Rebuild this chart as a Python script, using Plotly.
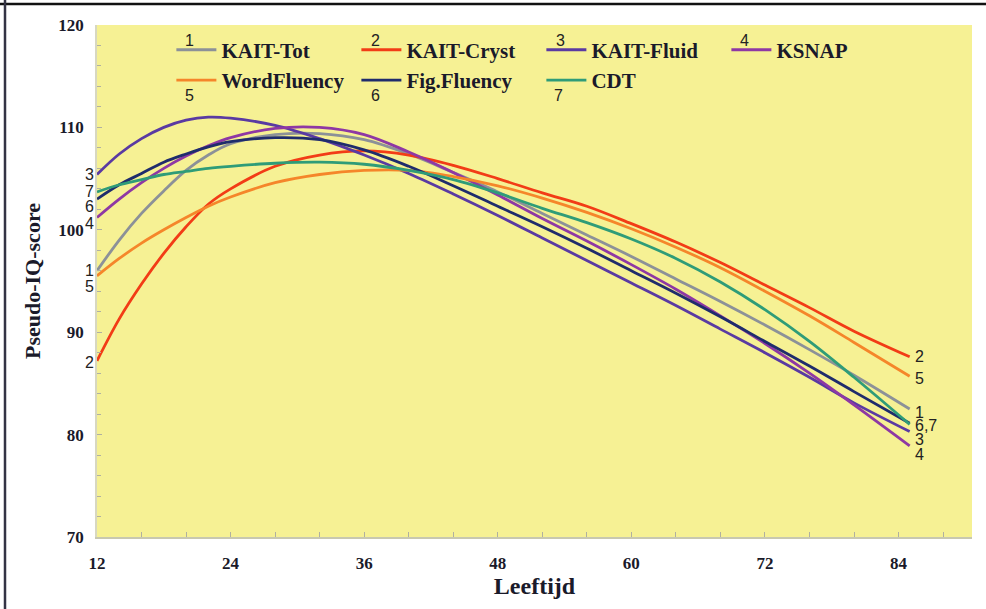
import plotly.graph_objects as go

ages = [12, 14, 16, 18, 20, 22, 24, 28, 32, 36, 40, 44, 48, 52, 56, 60, 64, 68, 72, 76, 80, 85]

kait_tot = [96.0, 99.0, 101.6, 103.8, 105.8, 107.3, 108.4, 109.3, 109.4, 108.8, 107.4, 105.6, 103.7, 101.6, 99.5, 97.4, 95.2, 93.0, 90.7, 88.3, 85.8, 82.5]
kait_cryst = [87.2, 91.3, 94.7, 97.7, 100.3, 102.5, 104.0, 106.2, 107.3, 107.7, 107.3, 106.3, 105.0, 103.6, 102.3, 100.6, 98.8, 96.8, 94.6, 92.4, 90.1, 87.6]
kait_fluid = [105.4, 107.4, 108.9, 110.0, 110.7, 111.0, 110.9, 110.2, 108.9, 107.3, 105.5, 103.5, 101.4, 99.2, 97.0, 94.8, 92.6, 90.3, 88.0, 85.6, 83.1, 80.3]
ksnap = [101.2, 103.0, 104.6, 106.0, 107.2, 108.2, 109.0, 109.9, 110.0, 109.3, 107.6, 105.6, 103.4, 101.1, 98.9, 96.6, 94.2, 91.6, 88.9, 86.0, 82.9, 78.9]
word_fluency = [95.5, 97.2, 98.7, 100.0, 101.2, 102.3, 103.2, 104.6, 105.4, 105.8, 105.8, 105.2, 104.3, 103.1, 101.7, 100.1, 98.3, 96.3, 94.0, 91.6, 89.0, 85.7]
fig_fluency = [103.0, 104.4, 105.5, 106.6, 107.4, 108.1, 108.6, 109.0, 108.8, 107.8, 106.2, 104.3, 102.3, 100.3, 98.2, 96.0, 93.8, 91.5, 89.1, 86.7, 84.2, 81.1]
cdt = [103.7, 104.4, 104.9, 105.4, 105.7, 106.0, 106.2, 106.5, 106.6, 106.4, 105.8, 104.9, 103.6, 102.1, 100.7, 99.1, 97.2, 94.9, 92.2, 89.1, 85.6, 81.0]

series_names = ["KAIT-Tot", "KAIT-Cryst", "KAIT-Fluid", "KSNAP", "WordFluency", "Fig.Fluency", "CDT"]
series_numbers = ["1", "2", "3", "4", "5", "6", "7"]
series_values = [kait_tot, kait_cryst, kait_fluid, ksnap, word_fluency, fig_fluency, cdt]
series_colors = ["#8c9198", "#f23c16", "#5a3aa2", "#8e38a4", "#f5862a", "#1f2c6c", "#2f9c78"]

x_ticks = [12, 24, 36, 48, 60, 72, 84]
y_ticks = [70, 80, 90, 100, 110, 120]

# end labels (number text, series index, vertical pixel nudge)
left_labels = [("3", 2, 0), ("7", 6, 0), ("6", 5, -7), ("4", 3, -6), ("1", 0, 0), ("5", 4, -11), ("2", 1, -2)]
right_labels = [("2", 1, 0), ("5", 4, -2), ("1", 0, -3), ("6,7", 5, -2), ("3", 2, -8), ("4", 3, -9)]

fig = go.Figure()
for name, vals, col in zip(series_names, series_values, series_colors):
    fig.add_trace(go.Scatter(
        x=ages, y=vals, mode="lines", name=name,
        line=dict(color=col, width=2.8, shape="spline", smoothing=1.0),
    ))

label_font = dict(family="Liberation Sans, Arial, sans-serif", size=16, color="#222222")
for txt, idx, dy in left_labels:
    fig.add_annotation(x=ages[0], y=series_values[idx][0], text=txt, showarrow=False,
                       xanchor="right", yanchor="middle", xshift=-1, yshift=dy, font=label_font)
for txt, idx, dy in right_labels:
    fig.add_annotation(x=ages[-1], y=series_values[idx][-1], text=txt, showarrow=False,
                       xanchor="left", yanchor="middle", xshift=3, yshift=dy, font=label_font)

# legend numbers (above first-row line samples, below second-row ones)
legend_num_pos = [(0.106, 0.969), (0.318, 0.969), (0.530, 0.969), (0.740, 0.969),
                  (0.106, 0.863), (0.318, 0.863), (0.527, 0.863)]
for num, (px, py) in zip(series_numbers, legend_num_pos):
    fig.add_annotation(xref="paper", yref="paper", x=px, y=py, text=num, showarrow=False,
                       xanchor="center", yanchor="middle", font=label_font)

serif = "Liberation Serif, Times New Roman, serif"
W, H = 986, 609
ml, mr, mt, mb = 97, 14, 25, 72
pw, ph = W - ml - mr, H - mt - mb

# frame lines of the image (top and left)
fig.add_shape(type="line", xref="paper", yref="paper",
              x0=-ml / pw, x1=1 + mr / pw, y0=1 + (mt - 4) / ph, y1=1 + (mt - 4) / ph,
              line=dict(color="#111111", width=2.5))
fig.add_shape(type="line", xref="paper", yref="paper",
              x0=-(ml - 5) / pw, x1=-(ml - 5) / pw, y0=-mb / ph, y1=1 + mt / ph,
              line=dict(color="#333344", width=2.5))

fig.update_layout(
    width=W, height=H,
    margin=dict(l=ml, r=mr, t=mt, b=mb),
    paper_bgcolor="white",
    plot_bgcolor="#f6f194",
    font=dict(family=serif, color="#1a1a2a"),
    showlegend=True,
    legend=dict(
        orientation="h", x=0.085, y=0.991, xanchor="left", yanchor="top",
        bgcolor="rgba(0,0,0,0)", entrywidth=130, entrywidthmode="pixels",
        font=dict(family=serif, size=21, color="#1a1a2a", weight="bold"),
        itemwidth=40, tracegroupgap=0,
    ),
    xaxis=dict(
        range=[12, 90.6], tickmode="array", tickvals=x_ticks,
        ticktext=[str(v) for v in x_ticks], automargin=False,
        showgrid=False, zeroline=False, showline=True, linecolor="#c8c8b0", linewidth=1.5,
        ticks="inside", ticklen=5, tickcolor="#b0b0a0",
        minor=dict(dtick=4, tick0=12, ticks="inside", ticklen=5, tickcolor="#b0b0a0"),
        tickfont=dict(family=serif, size=17, weight="bold"),
        ticklabelstandoff=10,
        title=dict(text="Leeftijd", font=dict(family=serif, size=24, weight="bold"), standoff=2),
    ),
    yaxis=dict(
        range=[70, 120], tickmode="array", tickvals=y_ticks,
        ticktext=[str(v) for v in y_ticks], automargin=False,
        showgrid=False, zeroline=False, showline=True, linecolor="#d8d8c0", linewidth=1.5,
        ticks="inside", ticklen=5, tickcolor="#b0b0a0",
        minor=dict(dtick=2, tick0=70, ticks="inside", ticklen=4, tickcolor="#b0b0a0"),
        tickfont=dict(family=serif, size=17, weight="bold"),
        ticklabelstandoff=8,
        title=dict(text="Pseudo-IQ-score", font=dict(family=serif, size=22, weight="bold"), standoff=12),
    ),
)

fig.write_html("out.html", config={"displayModeBar": False},
               post_script="document.body.style.margin='0px';document.body.style.overflow='hidden';")
